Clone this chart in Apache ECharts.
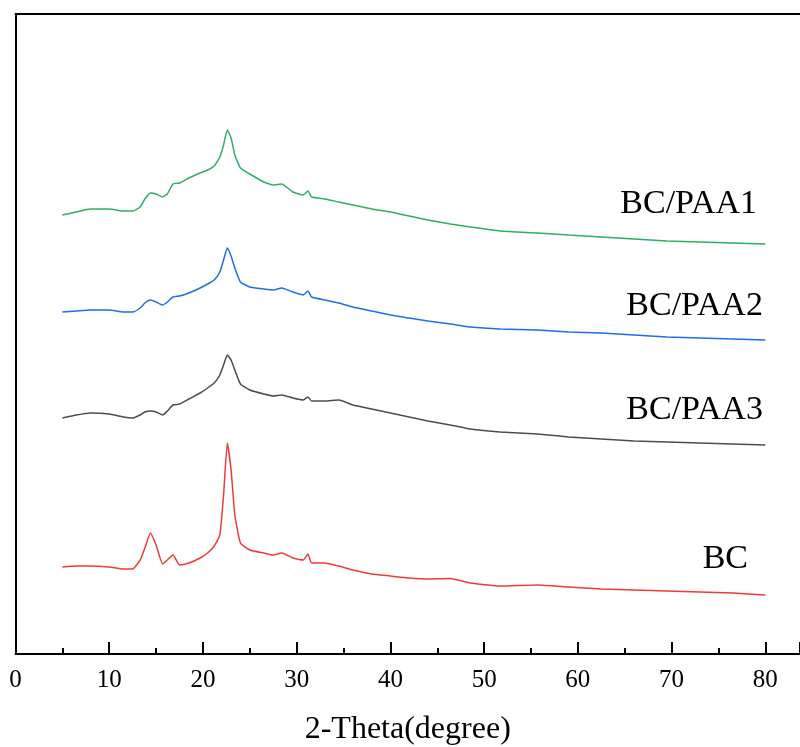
<!DOCTYPE html>
<html>
<head>
<meta charset="utf-8">
<script src="https://cdn.jsdelivr.net/npm/echarts@6/dist/echarts.min.js"></script>
<style>
  html, body { margin: 0; padding: 0; background: #fff; }
  #chart { width: 800px; height: 747px; }
</style>
</head>
<body>
<div id="chart"></div>
<script>
// 2-theta positions (degree) shared by all patterns
const twoTheta = [5, 6.5, 8, 10, 11.5, 12.5, 13.3, 13.8, 14.4, 15.0, 15.7, 16.2, 16.8, 17.5, 18.5, 19.7,
  20.5, 21.2, 21.8, 22.2, 22.6, 23.0, 23.4, 24.0, 25.0, 26.5, 27.5, 28.4, 29.6, 30.7, 31.2, 31.6,
  33.0, 34.5, 36.0, 38.0, 40.0, 42.0, 44.0, 46.4, 48.5, 51.7, 55.7, 59, 62.5, 66, 69.5, 73, 76.5, 80]

// intensities (a.u.), already shifted vertically for the stacked view
const paa1 = [439, 442, 445, 445, 443, 443, 447, 455, 461, 460, 457, 460, 470, 471, 476, 481,
  484, 488, 497, 509, 524, 516, 499, 486, 480, 472, 469, 470, 462, 459, 463, 457,
  455, 452, 449, 445, 442, 438, 434, 430, 427, 423, 421, 419, 417, 415, 413, 412, 411, 410]
const paa2 = [342, 343, 344, 344, 342, 342, 346, 351, 354, 352, 349, 352, 357, 358, 361, 366,
  370, 374, 382, 394, 406, 398, 386, 372, 367, 365, 364, 366, 362, 359, 363, 357,
  354, 351, 347, 343, 339, 336, 333, 330, 327, 325, 324, 322, 321, 319, 317, 316, 315, 314]
const paa3 = [236, 239, 241, 240, 237, 236, 239, 242, 243, 242, 239, 243, 249, 250, 255, 261,
  266, 271, 279, 289, 299, 294, 284, 270, 264, 260, 258, 259, 256, 254, 257, 253,
  253, 254, 249, 245, 241, 237, 233, 229, 225, 222, 220, 217, 215, 213, 212, 211, 210, 209]
const bc = [87, 88, 88, 87, 85, 85, 94, 106, 121, 109, 90, 94, 99, 89, 91, 96,
  101, 108, 119, 159, 211, 184, 139, 111, 104, 101, 99, 101, 96, 94, 100, 91,
  91, 88, 84, 80, 78, 76, 75, 75.5, 71, 68, 69, 67, 65, 64, 63, 62, 61, 59]

const names = ['BC/PAA1', 'BC/PAA2', 'BC/PAA3', 'BC']
const colors = ['#2fae66', '#1f6fe8', '#4d4d4d', '#ef3a3a']
const values = [paa1, paa2, paa3, bc]

const chart = echarts.init(document.getElementById('chart'))
const font = '"Liberation Serif", "Times New Roman", serif'

const series = values.map((v, i) => ({
  name: names[i],
  type: 'line',
  data: twoTheta.map((t, k) => [t, v[k]]),
  showSymbol: false,
  smooth: 0.15,
  lineStyle: { color: colors[i], width: 1.5 },
  itemStyle: { color: colors[i] },
  z: 3
}))

chart.setOption({
  animation: false,
  backgroundColor: '#fff',
  grid: { left: 15.5, right: 0, top: 14, bottom: 93, outerBoundsMode: 'none', containLabel: false },
  xAxis: [
    {
      type: 'value', min: 0, max: 83.7, interval: 10,
      name: '2-Theta(degree)', nameLocation: 'middle', nameGap: 60,
      nameTextStyle: { fontFamily: font, fontSize: 32, color: '#000' },
      axisLine: { onZero: false, lineStyle: { color: '#000', width: 2 } },
      axisTick: { inside: true, length: 12, lineStyle: { color: '#000', width: 2 } },
      minorTick: { show: true, splitNumber: 2, length: 6, lineStyle: { color: '#000', width: 2 } },
      axisLabel: { fontFamily: font, fontSize: 25, color: '#000', margin: 14, showMaxLabel: false },
      splitLine: { show: false }
    },
    {
      type: 'value', position: 'top', min: 0, max: 83.7,
      axisLine: { onZero: false, lineStyle: { color: '#000', width: 2 } },
      axisTick: { show: false }, axisLabel: { show: false }, splitLine: { show: false }
    }
  ],
  yAxis: {
    type: 'value', min: 0, max: 640,
    axisLine: { show: true, onZero: false, lineStyle: { color: '#000', width: 2 } },
    axisTick: { show: false }, axisLabel: { show: false }, splitLine: { show: false }
  },
  graphic: [
    { type: 'text', right: 43, top: 187, style: { text: 'BC/PAA1', font: '34px ' + font, fill: '#000' } },
    { type: 'text', right: 37, top: 289, style: { text: 'BC/PAA2', font: '34px ' + font, fill: '#000' } },
    { type: 'text', right: 37, top: 393, style: { text: 'BC/PAA3', font: '34px ' + font, fill: '#000' } },
    { type: 'text', right: 52, top: 542, style: { text: 'BC', font: '34px ' + font, fill: '#000' } }
  ],
  series
})
</script>
</body>
</html>
